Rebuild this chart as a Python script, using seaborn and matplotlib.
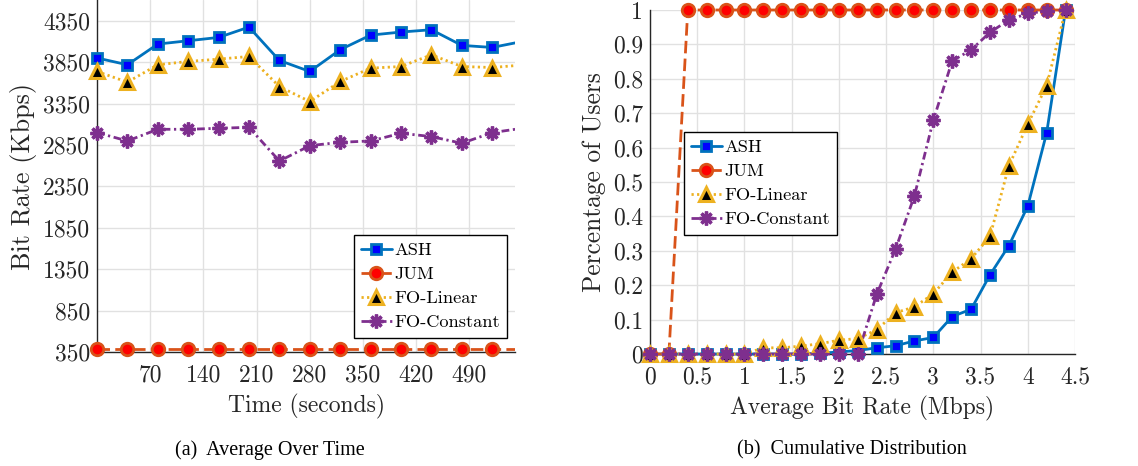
import numpy as np
import matplotlib
matplotlib.use("Agg")
import matplotlib.pyplot as plt
from matplotlib.lines import Line2D
import seaborn as sns

# ---- data: average bit rate over time (Kbps) ----
time_s = [0, 40, 80, 120, 160, 200, 240, 280, 320, 360, 400, 440, 480, 520, 560]
ash_time = [3900, 3818, 4068, 4108, 4148, 4273, 3870, 3737, 4000, 4176, 4213, 4241, 4052, 4027, 4100]
jum_time = [385] * 15
fol_time = [3737, 3608, 3818, 3858, 3886, 3918, 3555, 3374, 3616, 3777, 3797, 3938, 3797, 3785, 3815]
foc_time = [2999, 2898, 3039, 3039, 3051, 3063, 2656, 2841, 2882, 2898, 2991, 2951, 2870, 2999, 3052]
time_ticks = [70, 140, 210, 280, 350, 420, 490]
rate_ticks = [350, 850, 1350, 1850, 2350, 2850, 3350, 3850, 4350]

# ---- data: CDF of average bit rate (Mbps) ----
rate_mbps = [0.0, 0.2, 0.4, 0.6, 0.8, 1.0, 1.2, 1.4, 1.6, 1.8, 2.0, 2.2,
             2.4, 2.6, 2.8, 3.0, 3.2, 3.4, 3.6, 3.8, 4.0, 4.2, 4.4]
ash_cdf = [0, 0, 0, 0, 0, 0, 0, 0, 0, 0.002, 0.006, 0.01,
           0.018, 0.024, 0.038, 0.048, 0.109, 0.13, 0.23, 0.315, 0.43, 0.643, 1.0]
jum_cdf = [0, 0, 1, 1, 1, 1, 1, 1, 1, 1, 1, 1,
           1, 1, 1, 1, 1, 1, 1, 1, 1, 1, 1]
fol_cdf = [0, 0, 0, 0, 0, 0, 0.018, 0.018, 0.023, 0.03, 0.04, 0.045,
           0.07, 0.12, 0.137, 0.175, 0.238, 0.277, 0.342, 0.547, 0.668, 0.78, 1.0]
foc_cdf = [0, 0, 0, 0, 0, 0, 0, 0, 0, 0, 0, 0,
           0.173, 0.305, 0.46, 0.68, 0.852, 0.884, 0.935, 0.971, 0.99, 0.997, 1.0]
cdf_xticks = [0, 0.5, 1, 1.5, 2, 2.5, 3, 3.5, 4, 4.5]
cdf_xlabels = ["0", "0.5", "1", "1.5", "2", "2.5", "3", "3.5", "4", "4.5"]
cdf_yticks = [0, 0.1, 0.2, 0.3, 0.4, 0.5, 0.6, 0.7, 0.8, 0.9, 1]
cdf_ylabels = ["0", "0.1", "0.2", "0.3", "0.4", "0.5", "0.6", "0.7", "0.8", "0.9", "1"]

labels = ["ASH", "JUM", "FO-Linear", "FO-Constant"]

sns.set_theme(style="white")
plt.rcParams["font.family"] = ["cmr10", "DejaVu Serif"]
plt.rcParams["mathtext.fontset"] = "cm"
plt.rcParams["axes.unicode_minus"] = False

AX_COLOR = "#262626"
GRID_COLOR = "#e1e1e1"

styles = [
    dict(color="#0072BD", linestyle="-", marker="s", markersize=7,
         markerfacecolor="#0000ff", markeredgecolor="#0072BD", markeredgewidth=2.0),
    dict(color="#D95319", linestyle=(0, (4.5, 1.9)), marker="o", markersize=9,
         markerfacecolor="#ff0000", markeredgecolor="#D95319", markeredgewidth=2.0),
    dict(color="#EDB120", linestyle=(0, (0.8, 1.2)), marker="^", markersize=10,
         markerfacecolor="#000000", markeredgecolor="#EDB120", markeredgewidth=2.2),
    dict(color="#7E2F8E", linestyle=(0, (2.8, 1.3, 0.8, 1.3)), marker=(8, 2, 0), markersize=10,
         markerfacecolor="#7E2F8E", markeredgecolor="#7E2F8E", markeredgewidth=2.4),
]
LW = 2.0

fig = plt.figure(figsize=(11.38, 4.66), dpi=100)
ax1 = fig.add_axes([97 / 1138, (466 - 352) / 466, (515 - 97) / 1138, 352 / 466])
ax2 = fig.add_axes([650 / 1138, (466 - 354) / 466, 425 / 1138, 344 / 466])


def draw_series(ax, x, y, st, xmax, clip_line):
    x = np.asarray(x, float)
    y = np.asarray(y, float)
    sns.lineplot(x=x, y=y, ax=ax, sort=False, estimator=None, clip_on=clip_line,
                 zorder=3, color=st["color"], linestyle=st["linestyle"], linewidth=LW)
    keep = x <= xmax
    sns.lineplot(x=x[keep], y=y[keep], ax=ax, sort=False, estimator=None,
                 linestyle="", marker=st["marker"], markersize=st["markersize"],
                 markerfacecolor=st["markerfacecolor"],
                 markeredgecolor=st["markeredgecolor"],
                 markeredgewidth=st["markeredgewidth"], color=st["color"],
                 clip_on=False, zorder=4)


def legend_handles():
    hs = []
    for st in styles:
        hs.append(Line2D([0], [0], color=st["color"], linestyle=st["linestyle"],
                         linewidth=LW, marker=st["marker"],
                         markersize=st["markersize"],
                         markerfacecolor=st["markerfacecolor"],
                         markeredgecolor=st["markeredgecolor"],
                         markeredgewidth=st["markeredgewidth"]))
    return hs


def add_legend(ax, left_px, top_px):
    leg = ax.legend(legend_handles(), labels, loc="upper left",
                    bbox_to_anchor=(left_px / 1138, 1 - top_px / 466),
                    bbox_transform=fig.transFigure,
                    fontsize=13.2, frameon=True, fancybox=False, framealpha=1,
                    edgecolor="#000000", borderpad=0.4, labelspacing=0.45,
                    handlelength=1.65, handletextpad=0.15, borderaxespad=0)
    leg.get_frame().set_linewidth(1.0)
    leg.set_zorder(10)
    for t in leg.get_texts():
        t.set_color("#000000")
    return leg


def style_axes(ax):
    ax.grid(True, color=GRID_COLOR, linewidth=1.0)
    ax.set_axisbelow(True)
    for side in ("top", "right"):
        ax.spines[side].set_visible(False)
    for side in ("left", "bottom"):
        ax.spines[side].set_color(AX_COLOR)
        ax.spines[side].set_linewidth(1.0)
    ax.tick_params(axis="both", direction="in", length=5, width=0.8,
                   colors=AX_COLOR, labelsize=17)
    ax.tick_params(axis="x", pad=9)
    ax.tick_params(axis="y", pad=5)


# ---- left panel: average over time ----
for y, st in zip([ash_time, jum_time, fol_time, foc_time], styles):
    draw_series(ax1, time_s, y, st, xmax=550, clip_line=True)
ax1.set_xlim(0, 550)
ax1.set_ylim(350, 4600)
ax1.set_xticks(time_ticks)
ax1.set_yticks(rate_ticks)
style_axes(ax1)
ax1.set_xlabel("Time (seconds)", fontsize=17, color=AX_COLOR, labelpad=5)
ax1.set_ylabel("Bit Rate (Kbps)", fontsize=18.8, color=AX_COLOR, labelpad=4)
add_legend(ax1, 354, 235)

# ---- right panel: cumulative distribution ----
for y, st in zip([ash_cdf, jum_cdf, fol_cdf, foc_cdf], styles):
    draw_series(ax2, rate_mbps, y, st, xmax=4.5, clip_line=False)
ax2.set_xlim(0, 4.5)
ax2.set_ylim(0, 1)
ax2.set_xticks(cdf_xticks)
ax2.set_xticklabels(cdf_xlabels)
ax2.set_yticks(cdf_yticks)
ax2.set_yticklabels(cdf_ylabels)
style_axes(ax2)
ax2.set_xlabel("Average Bit Rate (Mbps)", fontsize=17, color=AX_COLOR, labelpad=5)
ax2.set_ylabel("Percentage of Users", fontsize=18.3, color=AX_COLOR, labelpad=5)
add_legend(ax2, 684, 132)

# ---- sub-figure captions ----
cap_font = ["Liberation Serif", "DejaVu Serif"]
fig.text(270 / 1138, 1 - 450 / 466, "(a)  Average Over Time", ha="center", va="center",
         fontsize=14.5, family=cap_font, color="#000000")
fig.text(852 / 1138, 1 - 450 / 466, "(b)  Cumulative Distribution", ha="center", va="center",
         fontsize=14.5, family=cap_font, color="#000000")

fig.savefig("out.png", dpi=100)
